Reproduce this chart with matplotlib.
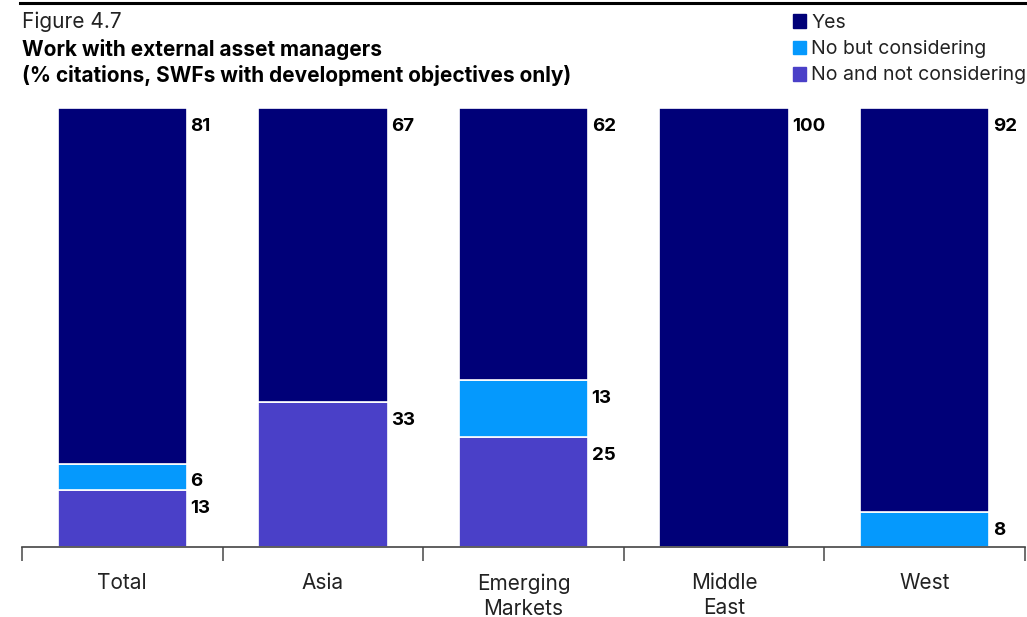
import matplotlib.pyplot as plt
import numpy as np

plt.rcParams['font.family'] = ['Inter', 'DejaVu Sans']

categories = ['Total', 'Asia', 'Emerging\nMarkets', 'Middle\nEast', 'West']
not_considering = [13, 33, 25, 0, 0]
considering = [6, 0, 13, 0, 8]
yes = [81, 67, 62, 100, 92]

series = [
    ('No and not considering', not_considering, '#4a40c8'),
    ('No but considering', considering, '#0599fd'),
    ('Yes', yes, '#000078'),
]

fig = plt.figure(figsize=(10.27, 6.17), dpi=100)
ax = fig.add_axes([22 / 1027, 70 / 617, 1003 / 1027, 439 / 617])

x = np.arange(len(categories))
width = 0.645
bottom = np.zeros(len(categories))
for name, vals, color in series:
    vals = np.array(vals, dtype=float)
    ax.bar(x, vals, width, bottom=bottom, color=color, edgecolor='white',
           linewidth=1.2, zorder=2)
    for xi, b, v in zip(x, bottom, vals):
        if v > 0:
            ax.annotate(f'{int(v)}', (xi + width / 2, b + v), xytext=(2.5, -7),
                        textcoords='offset points', ha='left', va='top',
                        fontsize=13.5, fontweight='bold', color='black')
    bottom += vals

ax.set_xlim(-0.5, len(categories) - 0.5)
ax.set_ylim(0, 100)
for s in ['top', 'right', 'left']:
    ax.spines[s].set_visible(False)
ax.spines['bottom'].set_color('#444444')
ax.spines['bottom'].set_linewidth(1.2)
ax.set_yticks([])
ax.set_xticks(np.arange(-0.5, len(categories), 1.0))
ax.set_xticklabels([])
ax.tick_params(axis='x', length=10, width=1.2, color='#555555')
for xi, c in zip(x, categories):
    ax.text(xi, -6.0, c, ha='center', va='top', fontsize=15, color='#222222',
            linespacing=1.3)

# header
fig.add_artist(plt.Line2D([20 / 1027, 1.0], [1 - 3 / 617, 1 - 3 / 617],
                          color='black', linewidth=2.2))
fig.text(22 / 1027, 1 - 22 / 617, 'Figure 4.7', fontsize=15, va='center',
         color='#222222')
fig.text(22 / 1027, 1 - 49 / 617, 'Work with external asset managers',
         fontsize=15, fontweight='bold', va='center', color='black')
fig.text(22 / 1027, 1 - 76 / 617,
         '(% citations, SWFs with development objectives only)',
         fontsize=15, fontweight='bold', va='center', color='black')

# legend
for i, (name, vals, color) in enumerate(reversed(series)):
    yc = 1 - (21 + 26.5 * i) / 617
    fig.patches.append(plt.Rectangle((793 / 1027, yc - 6.5 / 617), 13 / 1027,
                                     13 / 617, color=color,
                                     transform=fig.transFigure, figure=fig))
    fig.text(811 / 1027, yc - 1.5 / 617, name, fontsize=14, va='center',
             color='#222222')

fig.savefig('out.png', dpi=100)
